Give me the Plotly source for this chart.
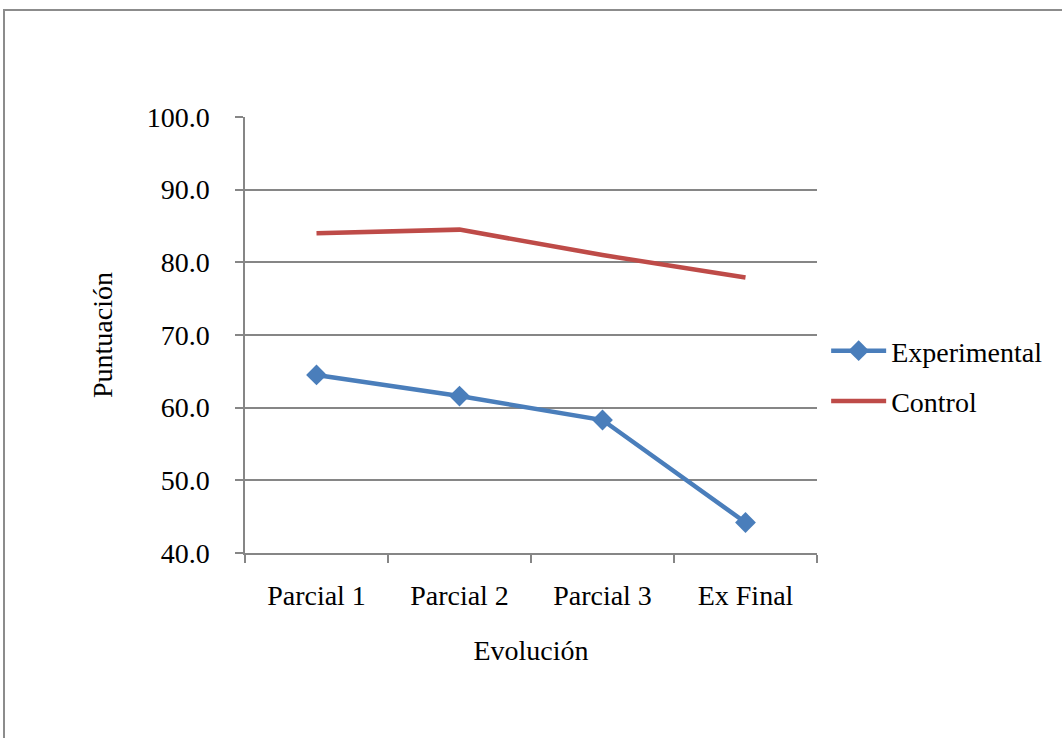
import plotly.graph_objects as go

categories = ["Parcial 1", "Parcial 2", "Parcial 3", "Ex Final"]
experimental = [64.5, 61.6, 58.3, 44.2]
control = [84.0, 84.5, 81.0, 77.9]
y_ticks = [40, 50, 60, 70, 80, 90, 100]

FONT = "Liberation Serif"
GRID = "#868686"
FS = 28

fig = go.Figure()
fig.add_trace(go.Scatter(
    x=categories, y=experimental, name="Experimental", mode="lines+markers",
    legendgroup="exp",
    line=dict(color="#4A7EBB", width=4.5),
    marker=dict(symbol="diamond", size=16, color="#4A7EBB"),
))
fig.add_trace(go.Scatter(
    x=categories, y=control, name="Control", mode="lines",
    legendgroup="ctl",
    line=dict(color="#BE4B48", width=4.5),
))

fig.update_layout(
    width=1062, height=738,
    margin=dict(l=245, r=245, t=117, b=185),
    paper_bgcolor="white", plot_bgcolor="white",
    font=dict(family=FONT, size=FS, color="black"),
    showlegend=True,
    legend=dict(x=1.016, y=0.406, xanchor="left", yanchor="middle",
                font=dict(family=FONT, size=FS, color="black"), itemwidth=55,
                bgcolor="rgba(0,0,0,0)", tracegroupgap=11),
    xaxis=dict(
        type="category", range=[-0.5, 3.5], domain=[0, 1],
        showline=True, linecolor=GRID, linewidth=1.5,
        ticks="outside", ticklen=8, tickcolor=GRID, tickwidth=1.5,
        tickson="boundaries", showgrid=False, ticklabelstandoff=17,
        title=dict(text="Evolución", font=dict(family=FONT, size=FS), standoff=30),
        tickfont=dict(family=FONT, size=FS),
    ),
    yaxis=dict(
        range=[40, 100], tickvals=y_ticks, tickformat=".1f",
        showline=True, linecolor=GRID, linewidth=1.5,
        ticks="outside", ticklen=8, tickcolor=GRID, tickwidth=1.5,
        showgrid=True, gridcolor=GRID, gridwidth=1.5, zeroline=False,
        ticklabelstandoff=20,
        title=dict(text="Puntuación", font=dict(family=FONT, size=FS), standoff=26),
        tickfont=dict(family=FONT, size=FS),
    ),
    shapes=[dict(
        type="rect", xref="paper", yref="paper",
        x0=(4 - 245) / 572, x1=3.0, y0=-2.0, y1=(553 - 10) / 436,
        line=dict(color="#8C8C8C", width=2), fillcolor="rgba(0,0,0,0)",
        layer="below",
    )],
)

fig.write_html("out.html")
